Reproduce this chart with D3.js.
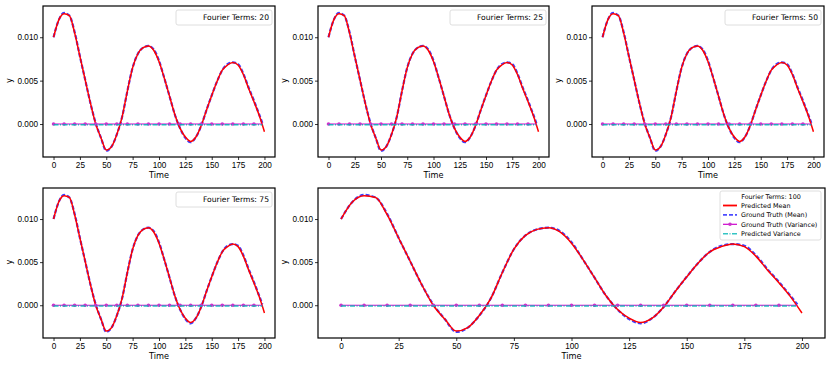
<!DOCTYPE html>
<html>
<head>
<meta charset="utf-8">
<script src="https://cdn.jsdelivr.net/npm/d3@7"></script>
<style>
  body { margin: 0; background: #fff; }
  svg { font-family: "DejaVu Sans", sans-serif; }
  .tick text { font-size: 8.2px; fill: #000; }
  .tick line { stroke: #000; stroke-width: 0.8; }
</style>
</head>
<body>
<script>
// values
const fourierTerms = [20, 25, 50, 75, 100]

const meanTime = [0, 5, 10, 15, 20, 25, 30, 35, 40, 45, 50, 55, 60, 65, 70, 75, 80, 85, 90, 95, 100,
  105, 110, 115, 120, 125, 130, 135, 140, 145, 150, 155, 160, 165, 170, 175, 180, 185, 190, 195, 200]
const predMean = [0.0100, 0.0120, 0.0127, 0.0125, 0.0105, 0.0078, 0.0051, 0.0024, 0.0000, -0.0016,
  -0.0030, -0.0026, -0.0012, 0.0008, 0.0038, 0.0065, 0.0081, 0.0088, 0.0090, 0.0085,
  0.0072, 0.0053, 0.0032, 0.0011, -0.0005, -0.0015, -0.0020, -0.0015, -0.0002, 0.0016,
  0.0033, 0.0049, 0.0062, 0.0068, 0.0071, 0.0068, 0.0057, 0.0041, 0.0026, 0.0010, -0.0009]

const truthTime = [0, 5, 10, 15, 20, 25, 30, 35, 40, 45, 50, 55, 60, 65, 70, 75, 80, 85, 90, 95, 100,
  105, 110, 115, 120, 125, 130, 135, 140, 145, 150, 155, 160, 165, 170, 175, 180, 185, 190, 195, 198]
const truthMean = [0.0100, 0.0120, 0.0128, 0.0125, 0.0106, 0.0078, 0.0051, 0.0024, 0.0001, -0.0016,
  -0.0031, -0.0026, -0.0012, 0.0008, 0.0038, 0.0065, 0.0081, 0.0088, 0.0090, 0.0086,
  0.0073, 0.0053, 0.0032, 0.0011, -0.0005, -0.0016, -0.0021, -0.0015, -0.0002, 0.0016,
  0.0033, 0.0049, 0.0062, 0.0069, 0.0071, 0.0069, 0.0058, 0.0042, 0.0027, 0.0011, 0.0001]

const varTime = [0, 10, 20, 30, 40, 50, 60, 70, 80, 90, 100, 110, 120, 130, 140, 150, 160, 170, 180, 190, 198]
const truthVar = [0, 0, 0, 0, 0, 0, 0, 0, 0, 0, 0, 0, 0, 0, 0, 0, 0, 0, 0, 0, 0]
const predVar = [0, 0, 0, 0, 0, 0, 0, 0, 0, 0, 0, 0, 0, 0, 0, 0, 0, 0, 0, 0, 0]

const xTicks = [0, 25, 50, 75, 100, 125, 150, 175, 200]
const yTicks = [0.000, 0.005, 0.010]

const seriesNames = ['Predicted Mean', 'Ground Truth (Mean)', 'Ground Truth (Variance)', 'Predicted Variance']

// panel frames in pixels
const panels = [
  {x0: 43, x1: 275, y0: 6, y1: 157},
  {x0: 318, x1: 549, y0: 6, y1: 157},
  {x0: 592, x1: 824, y0: 6, y1: 157},
  {x0: 43, x1: 275, y0: 188, y1: 338},
  {x0: 318, x1: 825, y0: 188, y1: 338}
]

const svg = d3.select('body').append('svg').attr('width', 830).attr('height', 369)

const zip = (xsArr, ysArr) => xsArr.map((t, i) => ({t: t, v: ysArr[i]}))

panels.forEach((p, k) => {
  const x = d3.scaleLinear().domain([-10, 210]).range([p.x0, p.x1])
  const y = d3.scaleLinear().domain([-0.0038, 0.0136]).range([p.y1, p.y0])
  const g = svg.append('g')
  const line = d3.line().x(d => x(d.t)).y(d => y(d.v)).curve(d3.curveMonotoneX)

  // ground truth mean (under)
  g.append('path').attr('d', line(zip(truthTime, truthMean)))
    .attr('fill', 'none').attr('stroke', '#0000ff').attr('stroke-opacity', 0.75)
    .attr('stroke-width', 2.2).attr('stroke-dasharray', '4,2')
  // predicted mean
  g.append('path').attr('d', line(zip(meanTime, predMean)))
    .attr('fill', 'none').attr('stroke', '#ff0000').attr('stroke-width', 1.5)

  // ground truth variance
  g.append('path').attr('d', line(zip(varTime, truthVar)))
    .attr('fill', 'none').attr('stroke', '#cc00cc').attr('stroke-width', 1.2)
  g.selectAll('circle.gv').data(zip(varTime, truthVar).filter(d => d.t % 10 === 0))
    .enter().append('circle').attr('class', 'gv')
    .attr('cx', d => x(d.t)).attr('cy', d => y(d.v)).attr('r', 1.8)
    .attr('fill', '#cc33cc')
  // predicted variance
  g.append('path').attr('d', line(zip(varTime, predVar)))
    .attr('transform', 'translate(0,0.8)')
    .attr('fill', 'none').attr('stroke', '#00b5b5').attr('stroke-opacity', 0.85)
    .attr('stroke-width', 1.4).attr('stroke-dasharray', '5,1.5,1,1.5')

  // frame
  g.append('rect').attr('x', p.x0).attr('y', p.y0)
    .attr('width', p.x1 - p.x0).attr('height', p.y1 - p.y0)
    .attr('fill', 'none').attr('stroke', '#000').attr('stroke-width', 1.2)

  const ax = g.append('g').attr('transform', `translate(0,${p.y1})`)
    .call(d3.axisBottom(x).tickValues(xTicks).tickSize(3).tickPadding(2).tickSizeOuter(0))
  ax.select('.domain').remove()
  const ay = g.append('g').attr('transform', `translate(${p.x0},0)`)
    .call(d3.axisLeft(y).tickValues(yTicks).tickFormat(d3.format('.3f')).tickSize(3).tickPadding(2).tickSizeOuter(0))
  ay.select('.domain').remove()

  g.append('text').attr('x', (p.x0 + p.x1) / 2).attr('y', p.y1 + 21)
    .attr('text-anchor', 'middle').attr('font-size', 8.2).text('Time')
  g.append('text')
    .attr('transform', `translate(${p.x0 - 31},${y(0.005)}) rotate(-90)`)
    .attr('text-anchor', 'middle').attr('font-size', 8.2).text('y')

  // legend
  const title = `Fourier Terms: ${fourierTerms[k]}`
  if (k < 4) {
    const lw = 96, lh = 15
    const lx = p.x1 - 3 - lw, ly = p.y0 + 4
    g.append('rect').attr('x', lx).attr('y', ly).attr('width', lw).attr('height', lh)
      .attr('rx', 2).attr('fill', '#fff').attr('fill-opacity', 0.8)
      .attr('stroke', '#d6d6d6').attr('stroke-width', 0.8)
    g.append('text').attr('x', lx + lw - 3).attr('y', ly + lh / 2 + 2.7)
      .attr('text-anchor', 'end').attr('font-size', 7.6).text(title)
  } else {
    const lw = 101, lh = 49
    const lx = p.x1 - 4 - lw, ly = p.y0 + 3
    g.append('rect').attr('x', lx).attr('y', ly).attr('width', lw).attr('height', lh)
      .attr('rx', 2).attr('fill', '#fff').attr('fill-opacity', 0.8)
      .attr('stroke', '#d6d6d6').attr('stroke-width', 0.8)
    g.append('text').attr('x', lx + 51).attr('y', ly + 7.5)
      .attr('text-anchor', 'middle').attr('font-size', 6.4).text(title)
    const styles = [
      {c: '#ff0000', o: 1, w: 1.8, dash: null},
      {c: '#0000ff', o: 0.7, w: 1.6, dash: '4,2'},
      {c: '#cc00cc', o: 1, w: 1.2, dash: null},
      {c: '#00b5b5', o: 0.8, w: 1.4, dash: '5,1.5,1,1.5'}
    ]
    seriesNames.forEach((name, i) => {
      const ry = ly + 14.5 + i * 9.4
      const s = styles[i]
      g.append('line').attr('x1', lx + 3).attr('x2', lx + 17).attr('y1', ry).attr('y2', ry)
        .attr('stroke', s.c).attr('stroke-opacity', s.o).attr('stroke-width', s.w)
        .attr('stroke-dasharray', s.dash)
      if (i === 2) {
        g.append('circle').attr('cx', lx + 10).attr('cy', ry).attr('r', 1.8).attr('fill', '#cc33cc')
      }
      g.append('text').attr('x', lx + 21).attr('y', ry + 2.3)
        .attr('font-size', 6.4).text(name)
    })
  }
})
</script>
</body>
</html>
